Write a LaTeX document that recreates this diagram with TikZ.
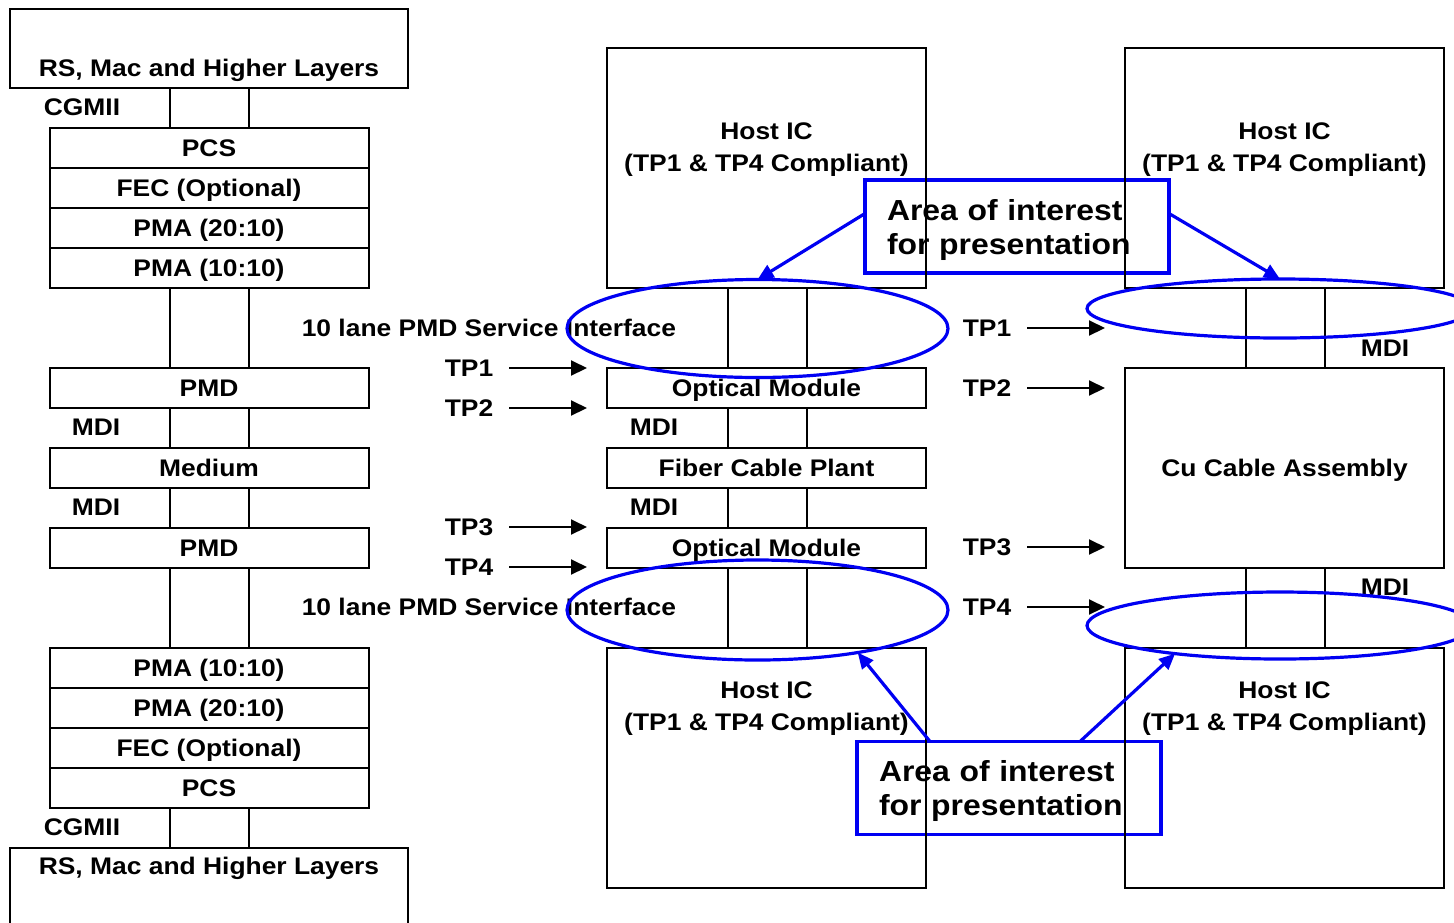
\documentclass[tikz,border=0pt]{standalone}
\usepackage{fontspec}
\setmainfont[FakeStretch=1.1]{Liberation Sans}
\usetikzlibrary{arrows.meta, positioning, shapes.geometric}
\definecolor{areablue}{rgb}{0.0, 0.0, 0.95}

\begin{document}
\begin{tikzpicture}[
        x=0.5pt, y=-0.5pt,
        every node/.style={font=\fontsize{12}{16}\selectfont\bfseries, inner sep=0pt, outer sep=0pt},
        lbl/.style={text height=8.6pt, text depth=0pt},
        layer/.style={lbl, draw, line width=1pt, minimum width=159.5pt, minimum height=20pt},
        rsbox/.style={draw, line width=1pt, minimum width=199pt},
        hostbox/.style={draw, line width=1pt, minimum width=159.5pt, minimum height=120pt},
        hosttext/.style={align=center, text depth=0pt},
        link/.style={line width=1pt},
        tparrow/.style={-{Triangle[length=8pt, width=7.5pt]}, line width=1pt},
        areabox/.style={draw=areablue, line width=1.6pt, minimum height=46.5pt, inner xsep=11pt,
            text width=130pt, align=left, text depth=17pt, font=\fontsize{14.5}{17}\selectfont\bfseries},
        areaoval/.style={ellipse, draw=areablue, line width=1.6pt},
        areaarrow/.style={-{Triangle[length=8pt, width=7pt]}, line width=1.6pt, areablue}
    ]
        \useasboundingbox (0,0) rectangle (1454,922);

        % blue boxes first, the black lines run over them
        \node[areabox] (areaA) at (1017,226.5) {Area of interest\\for presentation};
        \node[areabox] (areaB) at (1009,788) {Area of interest\\for presentation};

        % left stack
        \node[layer] (pcsA) at (209,148) {PCS};
        \node[layer, below=0pt of pcsA] (fecA) {FEC (Optional)};
        \node[layer, below=0pt of fecA] (pmabA) {PMA (20:10)};
        \node[layer, below=0pt of pmabA] (pmaaA) {PMA (10:10)};
        \node[rsbox, minimum height=39.5pt, above=20pt of pcsA] (rsA) {};
        \node[lbl] (rsAtext) at ([yshift=10pt]rsA.south) {RS, Mac and Higher Layers};
        \node[layer, below=40pt of pmaaA] (pmdA) {PMD};
        \node[layer, below=20pt of pmdA] (medium) {Medium};
        \node[layer, below=20pt of medium] (pmdB) {PMD};
        \node[layer, below=40pt of pmdB] (pmaaB) {PMA (10:10)};
        \node[layer, below=0pt of pmaaB] (pmabB) {PMA (20:10)};
        \node[layer, below=0pt of pmabB] (fecB) {FEC (Optional)};
        \node[layer, below=0pt of fecB] (pcsB) {PCS};
        \node[rsbox, minimum height=60pt, below=20pt of pcsB] (rsB) {};
        \node[lbl] (rsBtext) at ([yshift=-9pt]rsB.north) {RS, Mac and Higher Layers};

        \node[lbl] (cgmiiA) at (82,107) {CGMII};
        \node[lbl] (cgmiiB) at (82,827) {CGMII};
        \node[lbl] (mdiA) at (96,427) {MDI};
        \node[lbl] (mdiB) at (96,507) {MDI};

        % optical link
        \node[hostbox] (hostA) at (766.5,168) {};
        \node[layer, below=40pt of hostA] (optA) {Optical Module};
        \node[layer, below=20pt of optA] (fiber) {Fiber Cable Plant};
        \node[layer, below=20pt of fiber] (optB) {Optical Module};
        \node[hostbox, below=40pt of optB] (hostB) {};
        \node[hosttext] (hostAtext) at ([yshift=-49.5pt]hostA.north) {Host IC\\(TP1 \& TP4 Compliant)};
        \node[hosttext] (hostBtext) at ([yshift=-29pt]hostB.north) {Host IC\\(TP1 \& TP4 Compliant)};
        \node[lbl] (mdiC) at (654,427) {MDI};
        \node[lbl] (mdiD) at (654,507) {MDI};
        \node[lbl, anchor=east] (psiA) at (676,328) {10 lane PMD Service Interface};
        \node[lbl, anchor=east] (psiB) at (676,607) {10 lane PMD Service Interface};

        % copper link
        \node[hostbox] (hostC) at (1284.5,168) {};
        \node[layer, minimum height=100pt, below=40pt of hostC] (cu) {Cu Cable Assembly};
        \node[hostbox, below=40pt of cu] (hostD) {};
        \node[hosttext] (hostCtext) at ([yshift=-49.5pt]hostC.north) {Host IC\\(TP1 \& TP4 Compliant)};
        \node[hosttext] (hostDtext) at ([yshift=-29pt]hostD.north) {Host IC\\(TP1 \& TP4 Compliant)};
        \node[lbl] (mdiE) at (1385,348) {MDI};
        \node[lbl] (mdiF) at (1385,587) {MDI};

        % lane pairs between the boxes
        \foreach \a/\b in {rsA/pcsA, pmaaA/pmdA, pmdA/medium, medium/pmdB, pmdB/pmaaB, pcsB/rsB,
                hostA/optA, optA/fiber, fiber/optB, optB/hostB, hostC/cu, cu/hostD}
            \foreach \s in {-19.5,20}
                \draw[link] ([xshift=\s pt]\a.south) -- ([xshift=\s pt]\b.north);

        % test points
        \foreach \n/\y in {1/368, 2/408, 3/527, 4/567} {
            \node[lbl] (tpL\n) at (469,\y) {TP\n};
            \coordinate (tpLend\n) at (587,\y);
            \draw[tparrow] ([xshift=8pt]tpL\n.east) -- (tpLend\n);
        }
        \foreach \n/\y in {1/328, 2/388, 3/547, 4/607} {
            \node[lbl] (tpR\n) at (987,\y) {TP\n};
            \coordinate (tpRend\n) at (1105,\y);
            \draw[tparrow] ([xshift=8pt]tpR\n.east) -- (tpRend\n);
        }

        % areas of interest
        \node[areaoval, minimum width=190.5pt, minimum height=49pt] (ovalA) at (757.5,328.5) {};
        \node[areaoval, minimum width=193pt, minimum height=29.5pt] (ovalB) at (1280,308.5) {};
        \node[areaoval, minimum width=190.5pt, minimum height=50pt] (ovalC) at (757.5,610) {};
        \node[areaoval, minimum width=193pt, minimum height=33.5pt] (ovalD) at (1280,625.5) {};
        \draw[areaarrow] ([yshift=6.5pt]areaA.west) -- (ovalA.north);
        \draw[areaarrow] ([yshift=6.5pt]areaA.east) -- (ovalB.north);
        \draw[areaarrow] ([xshift=-39.5pt]areaB.north) -- (ovalC.-23);
        \draw[areaarrow] ([xshift=35.5pt]areaB.north) -- (ovalD.-165);
    \end{tikzpicture}
\end{document}
